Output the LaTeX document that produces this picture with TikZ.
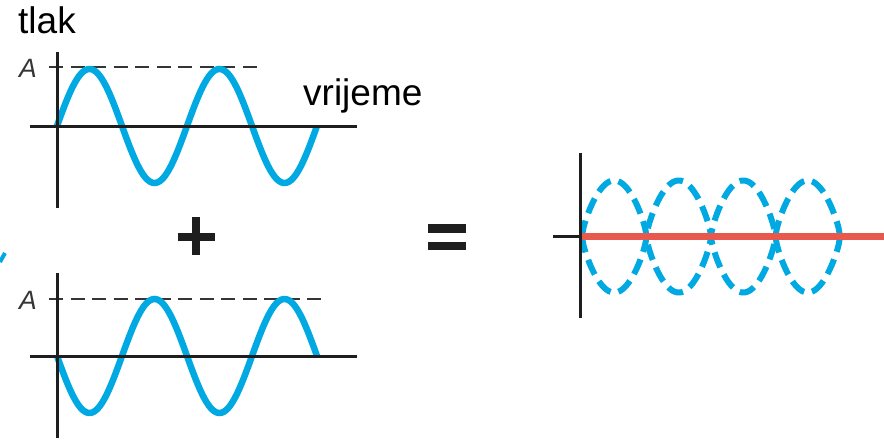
\documentclass[tikz,border=0pt]{standalone}
\usepackage{fontspec}
\setmainfont{Liberation Sans}
\definecolor{wave}{RGB}{0,169,226}
\definecolor{redline}{RGB}{233,88,76}
\definecolor{ink}{RGB}{30,30,30}
\begin{document}
\begin{tikzpicture}[x=1pt,y=-1pt,
  axis/.style={draw=ink,line width=3pt},
  ampline/.style={draw=ink!90,line width=1.5pt,dash pattern=on 14pt off 7.5pt},
  wavesolid/.style={draw=wave,line width=6.5pt},
  wavedash/.style={draw=wave,line width=6pt,dash pattern=on 16pt off 8pt},
  lbl/.style={inner sep=0pt,font=\fontsize{37}{44}\selectfont},
  alab/.style={inner sep=0pt,anchor=base,font=\fontsize{26.5}{30}\selectfont\itshape,text=ink!90},
  sign/.style={fill=ink,draw=none}]
\useasboundingbox (0,0) rectangle (884,447);
% ---------- top graph ----------
\draw[ampline] (49,67) -- (263,67);
\draw[wavesolid,domain=0:260,samples=140,smooth] plot ({57+\x},{126-57*sin(\x/130*360)});
\draw[axis] (30,126) -- (357,126);
\draw[axis] (57,52) -- (57,208);
\node[lbl,anchor=base west] (tlak) at (18,33) {tlak};
\node[lbl,anchor=base west] (vrijeme) at (303,105) {vrijeme};
\node[alab] (A1) at (28,77) {A};
% ---------- bottom graph ----------
\draw[ampline] (49,299) -- (327,299);
\draw[wavesolid,domain=0:260,samples=140,smooth] plot ({57+\x},{356+57*sin(\x/130*360)});
\draw[axis] (30,356) -- (357,356);
\draw[axis] (57,273) -- (57,438);
\node[alab] (A2) at (28,309) {A};
% ---------- plus and equals ----------
\fill[sign] (192,217) rectangle (200,255);
\fill[sign] (178,233) rectangle (215,241);
\fill[sign] (428,224) rectangle (466,233);
\fill[sign] (428,242) rectangle (466,250);
% ---------- right graph ----------
\draw[wavedash,domain=0.01:258,samples=200,smooth] plot ({582+\x},{236.5-56*(sin(\x/129*360)<0 ? -1 : 1)*pow(abs(sin(\x/129*360))+0.00001,0.72)});
\draw[wavedash,domain=0.01:258,samples=200,smooth] plot ({582+\x},{236.5+56*(sin(\x/129*360)<0 ? -1 : 1)*pow(abs(sin(\x/129*360))+0.00001,0.72)});
\draw[draw=redline,line width=7.5pt] (580,236.5) -- (884,236.5);
\draw[axis] (553,236.5) -- (580,236.5);
\draw[axis] (580,153) -- (580,318);
% ---------- small cropped mark at the left edge ----------
\draw[draw=wave,line width=4pt] (5,253) -- (0,262);
\end{tikzpicture}
\end{document}
